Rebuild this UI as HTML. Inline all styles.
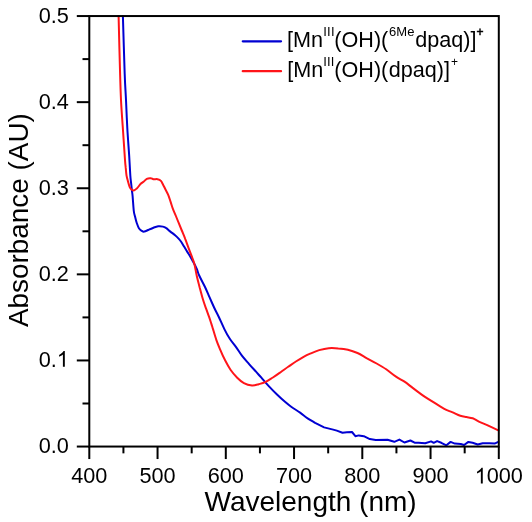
<!DOCTYPE html>
<html><head><meta charset="utf-8"><style>
html,body{margin:0;padding:0;background:#fff;width:532px;height:522px;overflow:hidden}
svg{display:block;filter:blur(0.35px)}
text{font-family:"Liberation Sans", sans-serif;fill:#000}
</style></head><body>
<svg width="532" height="522" viewBox="0 0 532 522">
<rect width="532" height="522" fill="#fff"/>
<g fill="none" stroke-linejoin="round" stroke-linecap="round" stroke-width="2.0">
<path stroke="#0000d2" d="M122.9,16.3 C123.2,25.9 124.2,60.0 124.7,74.0 C125.2,88.0 125.6,91.0 126.0,100.0 C126.4,109.0 126.8,118.7 127.3,128.0 C127.8,137.3 128.7,148.1 129.2,156.0 C129.7,163.9 130.0,170.8 130.3,175.3 C130.6,179.8 130.8,180.4 131.1,183.0 C131.4,185.6 131.7,188.5 131.9,190.7 C132.2,192.9 132.3,192.6 132.6,196.0 C132.9,199.4 133.4,207.7 133.8,211.0 C134.2,214.3 134.4,214.1 134.9,216.0 C135.4,217.9 135.9,220.5 136.6,222.5 C137.3,224.5 138.0,226.8 138.9,228.2 C139.8,229.6 140.9,230.3 141.8,230.9 C142.7,231.5 143.1,231.8 144.3,231.6 C145.5,231.4 147.3,230.3 148.8,229.7 C150.3,229.0 151.9,228.3 153.5,227.7 C155.1,227.1 156.6,226.5 158.2,226.3 C159.8,226.1 161.6,226.3 162.9,226.6 C164.2,226.9 164.7,227.1 165.9,227.9 C167.2,228.7 168.9,230.4 170.4,231.6 C171.9,232.8 173.7,234.0 175.1,235.2 C176.5,236.4 177.6,237.5 178.6,238.6 C179.6,239.7 180.4,240.7 181.3,242.0 C182.2,243.3 183.1,244.9 184.1,246.6 C185.1,248.3 186.5,250.7 187.6,252.4 C188.7,254.1 189.6,255.4 190.5,257.0 C191.4,258.6 192.2,260.1 193.3,262.1 C194.4,264.1 195.8,266.8 196.8,269.0 C197.8,271.2 197.8,272.5 199.2,275.5 C200.5,278.5 203.2,283.2 204.9,286.8 C206.6,290.4 208.0,293.8 209.5,297.2 C211.0,300.6 212.6,304.2 214.1,307.5 C215.6,310.8 217.0,313.1 218.7,316.7 C220.4,320.3 222.7,325.7 224.5,329.4 C226.3,333.1 227.9,335.9 229.8,338.8 C231.7,341.7 233.9,344.0 235.9,346.8 C237.9,349.6 239.7,352.7 241.9,355.6 C244.1,358.5 247.0,361.6 249.3,364.3 C251.7,367.0 254.0,369.5 256.0,371.7 C258.0,373.9 259.3,375.4 261.4,377.7 C263.4,380.0 265.7,382.8 268.3,385.6 C270.9,388.4 274.2,391.8 277.0,394.5 C279.8,397.2 282.6,399.8 285.0,401.8 C287.4,403.9 288.7,405.0 291.2,406.8 C293.7,408.6 297.4,410.7 300.1,412.6 C302.8,414.5 305.1,416.6 307.6,418.3 C310.1,420.0 313.9,422.1 315.1,422.9 L324.1,427.4 L333.2,429.6 L336.8,430.6 L342.5,432.7 L346.9,432.3 L352.0,432.0 L355.4,436.2 L358.8,435.4 L363.8,436.2 L369.8,439.1 L375.7,440.1 L387.5,439.8 L394.3,441.8 L399.4,439.6 L404.4,442.5 L410.4,440.5 L414.6,442.7 L418.5,442.8 L425.2,443.3 L431.1,441.4 L433.7,442.8 L437.1,441.1 L441.3,442.8 L446.4,445.3 L450.6,441.9 L454.8,443.6 L460.8,444.0 L464.1,445.0 L468.4,441.9 L472.6,442.8 L477.7,444.5 L482.7,443.3 L489.5,443.3 L494.6,443.6 L498.3,441.9"/>
<path stroke="#ff1419" d="M118.6,16.3 C118.8,25.9 119.7,60.0 120.1,74.0 C120.5,88.0 120.6,91.3 121.0,100.0 C121.4,108.7 122.0,116.0 122.7,126.0 C123.4,136.0 124.5,153.1 125.0,160.0 C125.5,166.9 125.5,165.1 125.7,167.7 C126.0,170.2 126.1,173.0 126.5,175.3 C126.9,177.6 127.5,179.6 128.0,181.5 C128.5,183.4 129.0,185.5 129.6,186.8 C130.2,188.1 130.8,188.9 131.5,189.5 C132.2,190.1 132.9,190.7 133.8,190.5 C134.7,190.3 135.8,189.5 136.9,188.4 C138.1,187.3 139.5,185.0 140.7,183.8 C141.8,182.7 142.8,182.3 143.8,181.5 C144.8,180.7 145.7,179.4 146.8,178.8 C148.0,178.2 149.6,178.1 150.7,178.2 C151.8,178.3 152.3,179.0 153.4,179.2 C154.5,179.4 156.2,178.9 157.5,179.2 C158.8,179.5 160.0,179.9 160.9,180.9 C161.8,181.9 162.4,183.5 163.2,184.9 C164.0,186.3 164.6,187.8 165.5,189.5 C166.4,191.2 167.5,193.2 168.4,195.3 C169.3,197.4 169.9,199.9 170.7,202.2 C171.5,204.5 172.1,206.8 173.0,209.1 C173.9,211.4 175.0,213.7 175.9,216.0 C176.8,218.3 177.7,220.5 178.7,222.9 C179.7,225.3 180.7,227.8 181.8,230.5 C182.9,233.2 184.2,236.1 185.3,239.1 C186.5,242.1 187.5,245.2 188.7,248.3 C189.8,251.4 191.2,254.8 192.2,257.5 C193.2,260.2 193.7,261.2 194.5,264.4 C195.3,267.6 196.0,272.6 196.9,276.5 C197.8,280.4 198.9,284.4 199.8,288.0 C200.8,291.6 201.6,294.9 202.6,298.3 C203.6,301.8 205.0,305.6 206.1,308.7 C207.2,311.8 208.1,314.2 209.0,316.7 C209.9,319.2 210.6,321.5 211.3,323.6 C212.0,325.7 212.2,326.6 213.1,329.4 C213.9,332.1 215.2,336.6 216.4,340.1 C217.6,343.6 219.0,346.8 220.4,350.2 C221.8,353.6 223.4,357.1 225.1,360.3 C226.8,363.6 228.5,366.8 230.5,369.7 C232.5,372.6 235.0,375.5 237.2,377.7 C239.4,379.9 241.4,381.8 243.9,383.1 C246.4,384.4 249.5,385.2 252.0,385.4 C254.5,385.6 256.5,384.8 258.7,384.2 C260.9,383.6 262.8,383.2 265.2,382.1 C267.6,381.0 270.3,379.1 272.9,377.5 C275.5,375.9 278.1,374.0 280.6,372.2 C283.2,370.4 285.6,368.6 288.2,366.8 C290.8,365.0 293.3,363.1 295.9,361.5 C298.5,359.9 301.3,358.2 303.6,356.9 C305.9,355.6 307.0,355.0 309.6,353.9 C312.2,352.8 316.0,351.1 319.2,350.1 C322.4,349.2 325.5,348.5 328.7,348.2 C331.9,347.9 335.1,348.1 338.3,348.4 C341.5,348.6 344.7,348.9 347.9,349.7 C351.1,350.5 354.3,351.6 357.5,353.0 C360.7,354.4 363.8,356.6 367.0,358.4 C370.2,360.1 373.4,361.7 376.6,363.5 C379.8,365.3 383.0,367.1 386.2,369.3 C389.4,371.5 392.9,374.6 396.0,376.7 C399.1,378.8 401.7,379.8 404.5,381.7 C407.3,383.6 409.9,385.8 412.7,387.9 C415.4,390.0 417.9,391.9 421.0,394.1 C424.1,396.3 427.6,398.5 431.4,400.9 C435.2,403.3 440.4,406.7 443.8,408.6 C447.2,410.5 449.2,410.9 452.0,412.1 C454.8,413.3 457.9,415.0 460.3,415.8 C462.7,416.6 464.4,416.7 466.5,417.1 C468.6,417.5 470.6,417.6 472.7,418.3 C474.8,419.1 476.5,420.5 478.9,421.6 C481.3,422.7 484.0,423.7 487.2,425.1 C490.4,426.6 496.4,429.4 498.3,430.3"/>
</g>
<g stroke="#000" stroke-width="2" fill="none">
<rect x="89.3" y="16.05" width="409.50" height="430.50"/>
<line x1="76.80" y1="446.55" x2="89.30" y2="446.55"/><line x1="82.50" y1="403.50" x2="89.30" y2="403.50"/><line x1="76.80" y1="360.45" x2="89.30" y2="360.45"/><line x1="82.50" y1="317.40" x2="89.30" y2="317.40"/><line x1="76.80" y1="274.35" x2="89.30" y2="274.35"/><line x1="82.50" y1="231.30" x2="89.30" y2="231.30"/><line x1="76.80" y1="188.25" x2="89.30" y2="188.25"/><line x1="82.50" y1="145.20" x2="89.30" y2="145.20"/><line x1="76.80" y1="102.15" x2="89.30" y2="102.15"/><line x1="82.50" y1="59.10" x2="89.30" y2="59.10"/><line x1="76.80" y1="16.05" x2="89.30" y2="16.05"/><line x1="89.30" y1="446.55" x2="89.30" y2="459.05"/><line x1="123.42" y1="446.55" x2="123.42" y2="453.35"/><line x1="157.55" y1="446.55" x2="157.55" y2="459.05"/><line x1="191.68" y1="446.55" x2="191.68" y2="453.35"/><line x1="225.80" y1="446.55" x2="225.80" y2="459.05"/><line x1="259.93" y1="446.55" x2="259.93" y2="453.35"/><line x1="294.05" y1="446.55" x2="294.05" y2="459.05"/><line x1="328.18" y1="446.55" x2="328.18" y2="453.35"/><line x1="362.30" y1="446.55" x2="362.30" y2="459.05"/><line x1="396.43" y1="446.55" x2="396.43" y2="453.35"/><line x1="430.55" y1="446.55" x2="430.55" y2="459.05"/><line x1="464.68" y1="446.55" x2="464.68" y2="453.35"/><line x1="498.80" y1="446.55" x2="498.80" y2="459.05"/>
</g>
<g font-size="21.7">
<text x="38.64" y="452.75">0.0</text><text x="38.64" y="366.65">0.</text><path fill="#000" transform="translate(56.73,366.65) scale(0.01060,-0.01060)" d="M763 0H583V1147Q518 1085 412.5 1023Q307 961 223 930V1104Q374 1175 487 1276Q600 1377 647 1472H763V0Z"/><text x="38.64" y="280.55">0.2</text><text x="38.64" y="194.55">0.3</text><text x="38.64" y="108.85">0.4</text><text x="38.64" y="22.95">0.5</text>
<text x="89.30" y="483.4" text-anchor="middle">400</text><text x="157.55" y="483.4" text-anchor="middle">500</text><text x="225.80" y="483.4" text-anchor="middle">600</text><text x="294.05" y="483.4" text-anchor="middle">700</text><text x="362.30" y="483.4" text-anchor="middle">800</text><text x="430.55" y="483.4" text-anchor="middle">900</text><path fill="#000" transform="translate(474.67,483.40) scale(0.01060,-0.01060)" d="M763 0H583V1147Q518 1085 412.5 1023Q307 961 223 930V1104Q374 1175 487 1276Q600 1377 647 1472H763V0Z"/><text x="486.73" y="483.4">000</text>
</g>
<text x="204.5" y="510.8" font-size="28">Wavelength (nm)</text>
<text transform="translate(27.5,327.1) rotate(-90)" font-size="27.9">Absorbance (AU)</text>
<g stroke-width="2.3" stroke-linecap="round">
<line x1="242.8" y1="41.3" x2="281.0" y2="41.3" stroke="#0000d2"/>
<line x1="242.8" y1="71.2" x2="281.0" y2="71.2" stroke="#ff1419"/>
</g>
<g font-size="21.6">
<text x="286.9" y="46.8">[Mn</text>
<text x="323.3" y="36.3" font-size="13" letter-spacing="0.2">III</text>
<text x="334.3" y="46.8">(OH)(</text>
<text x="389.1" y="36.4" font-size="13">6Me</text>
<text x="415.2" y="46.8">dpaq)]</text>
<text x="476.6" y="36.3" font-size="12" stroke="#000" stroke-width="0.5">+</text>
<text x="287.3" y="76.8">[Mn</text>
<text x="323.25" y="65.7" font-size="13" letter-spacing="0.15">III</text>
<text x="334.35" y="76.8">(OH)(</text>
<text x="388.7" y="76.8">dpaq)]</text>
<text x="451" y="65.8" font-size="12">+</text>
</g>
</svg>
</body></html>
